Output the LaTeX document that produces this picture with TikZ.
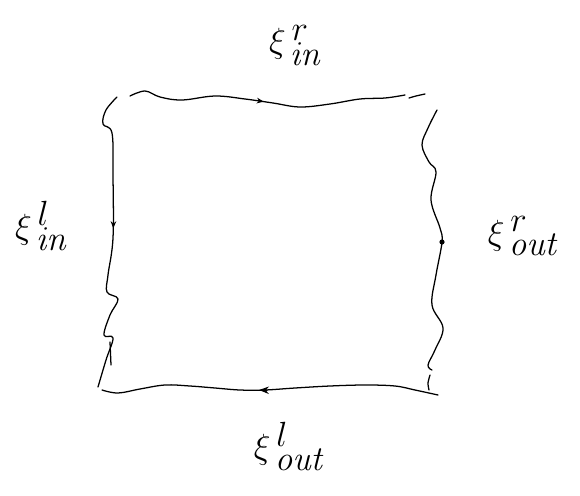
\documentclass[tikz,border=0pt]{standalone}
\usepackage{tikz}
\usetikzlibrary{arrows.meta,decorations.markings}

\begin{document}
\begin{tikzpicture}[x=0.025cm, y=-0.025cm, >=Stealth, every node/.style={font=\fontsize{36}{42}\selectfont,inner sep=0pt}, edge/.style={line width=0.9pt,line cap=round,line join=round}, tipmark/.style={postaction={decorate,decoration={markings,mark=at position #1 with {\arrow{Stealth[length=5pt,width=4pt]}}}}}]
\useasboundingbox (0,0) rectangle (580,495);
% corners of the square
\coordinate (tl) at (130,96);\coordinate (tr) at (425,94);\coordinate (br) at (438,395);\coordinate (bl) at (98,387);
% labels
\node (rin) at (296,45) {$\xi^{\,r}_{\,\mathit{in}}$};
\node (lin) at (42,226) {$\xi^{\,l}_{\,\mathit{in}}$};
\node (rout) at (524,236) {$\xi^{\,r}_{\,\mathit{out}}$};
\node (lout) at (290,446) {$\xi^{\,l}_{\,\mathit{out}}$};
% wavy sides
\draw[edge,tipmark=0.49] plot[smooth,tension=0.6] coordinates {(tl) (145,91) (160,97) (182,100) (215,96) (245,99) (273,103) (300,107) (330,104) (360,99) (385,98) (405,95)};
\draw[edge] plot[smooth] coordinates {(409,98) (416,96) (tr)};
\draw[edge,tipmark=0.44] plot[smooth,tension=0.6] coordinates {(117,97) (106,110) (103,124) (112,133) (113,175) (113,238) (108,275) (107,292) (118,299) (110,315) (104,335) (113,338) (106,360) (bl)};
\draw[edge] (110,342) -- (111,365);
\draw[edge] plot[smooth,tension=0.6] coordinates {(437,110) (428,128) (422,145) (429,162) (436,172) (431,200) (440,228) (442,242) (436,275) (432,305) (443,328) (435,350) (428,365) (432,370)};
\fill (442,242) circle (2.6);
\draw[edge] plot[smooth] coordinates {(430,375) (428,383) (429,390)};
\draw[edge] plot[smooth,tension=0.6] coordinates {(102,390) (118,393) (140,389) (165,385) (190,386) (215,388) (240,390) (265,390) (295,388) (330,386) (365,385) (395,386) (415,390) (br)};
\draw[edge,<-] (259,390) -- (267,390.2);
\end{tikzpicture}
\end{document}
